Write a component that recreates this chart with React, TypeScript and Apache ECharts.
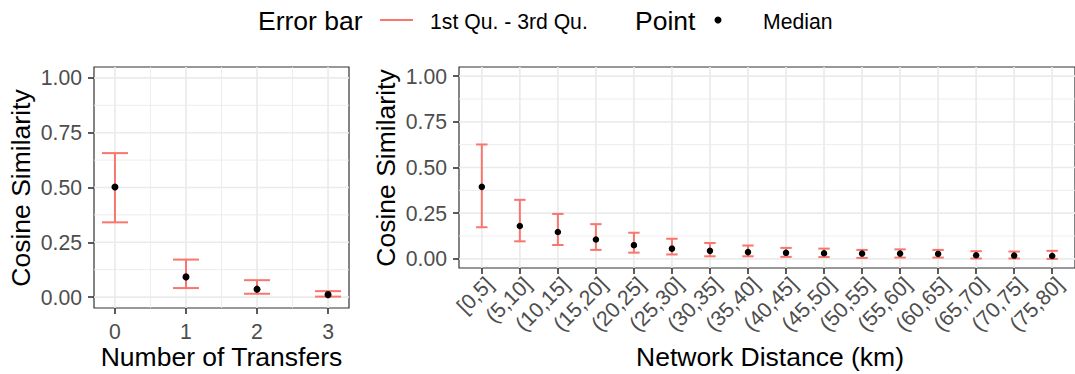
import React, { useEffect, useRef } from "react";
import * as echarts from "echarts";

const transfers = [0, 1, 2, 3];
const transferMedian = [0.502, 0.092, 0.036, 0.011];
const transferQ1 = [0.341, 0.041, 0.015, 0.002];
const transferQ3 = [0.657, 0.171, 0.077, 0.027];

const distanceCats = [
  "[0,5]", "(5,10]", "(10,15]", "(15,20]", "(20,25]", "(25,30]", "(30,35]", "(35,40]",
  "(40,45]", "(45,50]", "(50,55]", "(55,60]", "(60,65]", "(65,70]", "(70,75]", "(75,80]",
];
const distMedian = [0.394, 0.180, 0.147, 0.106, 0.075, 0.056, 0.044, 0.037, 0.033, 0.031, 0.029, 0.029, 0.027, 0.020, 0.018, 0.016];
const distQ1 = [0.173, 0.096, 0.076, 0.049, 0.034, 0.024, 0.014, 0.014, 0.011, 0.010, 0.005, 0.007, 0.007, 0.002, 0.002, 0.000];
const distQ3 = [0.626, 0.323, 0.246, 0.190, 0.143, 0.110, 0.087, 0.073, 0.060, 0.056, 0.049, 0.052, 0.049, 0.042, 0.040, 0.044];

const yTicks = [0, 0.25, 0.5, 0.75, 1];
const yMinor = [0.125, 0.375, 0.625, 0.875];
const xMinorTransfers = [0.5, 1.5, 2.5];

const FONT = "Liberation Sans, Arial, sans-serif";
const RED = "#F8766D";
const GRID_COLOR = "#ebebeb";
const BASE = 26.5;
const SMALL = 21.2;

function errorRender(capHalf: number) {
  return (params: any, api: any) => {
    const x = api.value(0);
    const lo = api.coord([x, api.value(1)]);
    const hi = api.coord([x, api.value(2)]);
    const st = { stroke: RED, lineWidth: 2 };
    return {
      type: "group",
      children: [
        { type: "line", shape: { x1: lo[0], y1: lo[1], x2: hi[0], y2: hi[1] }, style: st },
        { type: "line", shape: { x1: lo[0] - capHalf, y1: lo[1], x2: lo[0] + capHalf, y2: lo[1] }, style: st },
        { type: "line", shape: { x1: hi[0] - capHalf, y1: hi[1], x2: hi[0] + capHalf, y2: hi[1] }, style: st },
      ],
    };
  };
}

// data rows: [orientation (0 = horizontal, 1 = vertical), value, major (1) / minor (0)]
function gridRows(xMajor: number[], xMinor: number[]) {
  return [
    ...yMinor.map((v) => [0, v, 0]),
    ...xMinor.map((v) => [1, v, 0]),
    ...yTicks.map((v) => [0, v, 1]),
    ...xMajor.map((v) => [1, v, 1]),
  ];
}

function gridRender(params: any, api: any) {
  const cs = params.coordSys;
  const orient = api.value(0);
  const v = api.value(1);
  const major = api.value(2) === 1;
  const style = { stroke: GRID_COLOR, lineWidth: major ? 1.7 : 0.9 };
  if (orient === 0) {
    const p = api.coord([0, v]);
    return { type: "line", shape: { x1: cs.x, y1: p[1], x2: cs.x + cs.width, y2: p[1] }, style };
  }
  const p = api.coord([v, 0]);
  return { type: "line", shape: { x1: p[0], y1: cs.y, x2: p[0], y2: cs.y + cs.height }, style };
}

export default function App() {
  const ref = useRef<HTMLDivElement>(null);
  useEffect(() => {
    if (!ref.current) return;
    const chart = echarts.init(ref.current, null, { renderer: "svg" });
    const distIdx = distanceCats.map((_, i) => i);
    const tickStyle = { color: "#333333", width: 1.6 };
    const yAxisCommon = {
      type: "value",
      min: -0.05,
      max: 1.05,
      splitLine: { show: false },
      axisLine: { show: false, onZero: false },
      axisTick: { show: true, customValues: yTicks, length: 6, lineStyle: tickStyle },
      axisLabel: {
        customValues: yTicks,
        formatter: (v: number) => v.toFixed(2),
        color: "#4d4d4d",
        fontSize: SMALL,
        fontFamily: FONT,
        margin: 12,
      },
    };
    chart.setOption({
      animation: false,
      grid: [
        { left: 94, top: 67, width: 255, height: 241, show: true, borderColor: "#333333", borderWidth: 1.2, backgroundColor: "#ffffff" },
        { left: 459, top: 67, width: 622, height: 201, show: true, borderColor: "#333333", borderWidth: 1.2, backgroundColor: "#ffffff" },
      ],
      xAxis: [
        {
          type: "value",
          gridIndex: 0,
          min: -0.295,
          max: 3.295,
          splitLine: { show: false },
          axisLine: { show: false, onZero: false },
          axisTick: { show: true, customValues: transfers, length: 6, lineStyle: tickStyle },
          axisLabel: {
            customValues: transfers,
            formatter: (v: number) => String(v),
            color: "#4d4d4d",
            fontSize: SMALL,
            fontFamily: FONT,
            lineHeight: SMALL,
            margin: 13,
          },
        },
        {
          type: "value",
          gridIndex: 1,
          min: -0.6,
          max: 15.6,
          splitLine: { show: false },
          axisLine: { show: false, onZero: false },
          axisTick: { show: true, customValues: distIdx, length: 6, lineStyle: tickStyle },
          axisLabel: {
            customValues: distIdx,
            formatter: (v: number) => distanceCats[Math.round(v)] ?? "",
            rotate: 45,
            align: "right",
            verticalAlign: "top",
            color: "#4d4d4d",
            fontSize: SMALL,
            fontFamily: FONT,
            lineHeight: SMALL,
            margin: 5,
          },
        },
      ],
      yAxis: [
        { ...yAxisCommon, gridIndex: 0 },
        { ...yAxisCommon, gridIndex: 1 },
      ],
      series: [
        {
          type: "custom",
          xAxisIndex: 0,
          yAxisIndex: 0,
          z: 1,
          silent: true,
          renderItem: gridRender,
          encode: { x: -1, y: -1 },
          data: gridRows(transfers, xMinorTransfers),
        },
        {
          type: "custom",
          xAxisIndex: 1,
          yAxisIndex: 1,
          z: 1,
          silent: true,
          renderItem: gridRender,
          encode: { x: -1, y: -1 },
          data: gridRows(distIdx, []),
        },
        {
          type: "custom",
          xAxisIndex: 0,
          yAxisIndex: 0,
          z: 3,
          renderItem: errorRender(13),
          encode: { x: 0, y: [1, 2] },
          data: transfers.map((x, i) => [x, transferQ1[i], transferQ3[i]]),
        },
        {
          type: "custom",
          xAxisIndex: 1,
          yAxisIndex: 1,
          z: 3,
          renderItem: errorRender(5.7),
          encode: { x: 0, y: [1, 2] },
          data: distIdx.map((x, i) => [x, distQ1[i], distQ3[i]]),
        },
        {
          type: "scatter",
          xAxisIndex: 0,
          yAxisIndex: 0,
          z: 4,
          symbolSize: 7,
          itemStyle: { color: "#000000", opacity: 1 },
          data: transfers.map((x, i) => [x, transferMedian[i]]),
        },
        {
          type: "scatter",
          xAxisIndex: 1,
          yAxisIndex: 1,
          z: 4,
          symbolSize: 6.5,
          itemStyle: { color: "#000000", opacity: 1 },
          data: distIdx.map((x, i) => [x, distMedian[i]]),
        },
      ],
      graphic: [
        { type: "text", x: 258, y: 21, style: { text: "Error bar", fontSize: BASE, fontFamily: FONT, fill: "#000", textVerticalAlign: "middle" } },
        { type: "line", shape: { x1: 380, y1: 20, x2: 413, y2: 20 }, style: { stroke: RED, lineWidth: 2 } },
        { type: "text", x: 430, y: 21, style: { text: "1st Qu. - 3rd Qu.", fontSize: SMALL, fontFamily: FONT, fill: "#000", textVerticalAlign: "middle" } },
        { type: "text", x: 635, y: 21, style: { text: "Point", fontSize: BASE, fontFamily: FONT, fill: "#000", textVerticalAlign: "middle" } },
        { type: "circle", shape: { cx: 718, cy: 20, r: 3.5 }, style: { fill: "#000" } },
        { type: "text", x: 763, y: 21, style: { text: "Median", fontSize: SMALL, fontFamily: FONT, fill: "#000", textVerticalAlign: "middle" } },
        { type: "text", x: 21, y: 188, rotation: Math.PI / 2, style: { text: "Cosine Similarity", fontSize: BASE, fontFamily: FONT, fill: "#000", textAlign: "center", textVerticalAlign: "middle" } },
        { type: "text", x: 386, y: 168, rotation: Math.PI / 2, style: { text: "Cosine Similarity", fontSize: BASE, fontFamily: FONT, fill: "#000", textAlign: "center", textVerticalAlign: "middle" } },
        { type: "text", x: 221.5, y: 357, style: { text: "Number of Transfers", fontSize: BASE, fontFamily: FONT, lineHeight: BASE, fill: "#000", textAlign: "center", textVerticalAlign: "middle" } },
        { type: "text", x: 770, y: 357, style: { text: "Network Distance (km)", fontSize: BASE, fontFamily: FONT, lineHeight: BASE, fill: "#000", textAlign: "center", textVerticalAlign: "middle" } },
      ],
    });
    return () => chart.dispose();
  }, []);
  return <div ref={ref} style={{ position: "absolute", left: 0, top: 0, width: 1075, height: 374 }} />;
}
